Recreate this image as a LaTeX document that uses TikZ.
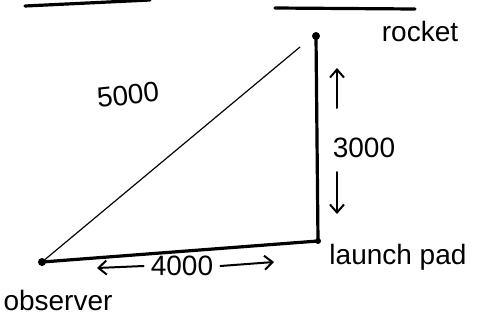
\documentclass[tikz,border=0pt]{standalone}
\usepackage{fontspec}
\setmainfont{Liberation Sans}
\usetikzlibrary{arrows.meta}
\begin{document}
\begin{tikzpicture}[x=1pt,y=-1pt,
  heavy/.style={line width=3.2pt,line cap=round,line join=round},
  thin/.style={line width=1.2pt,line cap=round},
  lbl/.style={font=\fontsize{28}{30}\selectfont,inner sep=1pt},
  arr/.style={line width=2pt,line cap=round,-{Straight Barb[length=8pt,width=14pt]}}]
\useasboundingbox (0,0) rectangle (477,322);
% top lines (remnants)
\draw[heavy] (25,6) -- (150,0);
\draw[heavy] (275,8) -- (415,9);
% triangle
\coordinate (obs) at (42,262);
\coordinate (pad) at (318,241);
\coordinate (rock) at (316,36);
\coordinate (hyp) at (300,47);
\draw[heavy] (obs) -- (pad) -- (rock);
\fill (obs) circle (4pt);
\fill (pad) circle (3pt);
\fill (rock) circle (4pt);
\draw[thin] (obs) -- (hyp);
% labels
\node[lbl] (rocket) at (420,31) {rocket};
\node[lbl] (lp) at (398,257) {launch pad};
\node[lbl] (ob) at (58,300) {observer};
\node[lbl,rotate=6] (h) at (128,95) {5000};
\node[lbl] (v) at (364,148) {3000};
\node[lbl] (b) at (182,266) {4000};
% dimension arrows
\coordinate (vu0) at (337,108);
\coordinate (vu) at (337,68);
\coordinate (vd0) at (337,172);
\coordinate (vd) at (337,214);
\coordinate (bl) at (97,268);
\coordinate (br) at (274,262);
\draw[arr] (vu0) -- (vu);
\draw[arr] (vd0) -- (vd);
\draw[arr] ([xshift=-6pt]b.west) -- (bl);
\draw[arr] ([xshift=6pt]b.east) -- (br);
\end{tikzpicture}
\end{document}
